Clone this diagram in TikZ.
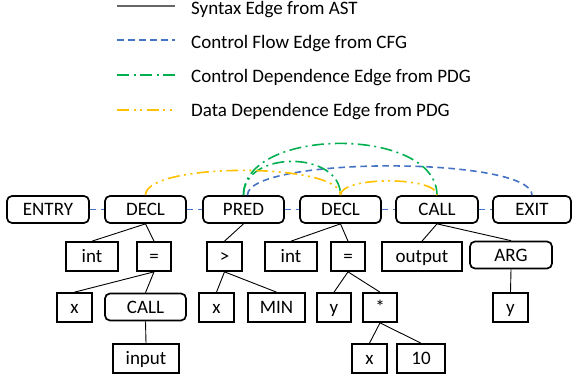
\documentclass[tikz,border=0pt]{standalone}
\usepackage{fontspec}
\setmainfont{Carlito}
\definecolor{cfgblue}{RGB}{68,114,196}
\definecolor{cdggreen}{RGB}{0,176,80}
\definecolor{ddgyellow}{RGB}{255,192,0}
\begin{document}
\begin{tikzpicture}[x=1pt,y=-1pt,
  lbl/.style={font=\fontsize{19}{22}\selectfont, inner sep=0pt},
  box/.style={draw=black, line width=1.7pt, minimum height=29pt, inner sep=0pt,
    text height=14pt, text depth=2pt, font=\fontsize{19}{22}\selectfont},
  rbox/.style={box, rounded corners=5pt, minimum height=27pt},
  ast/.style={line width=0.9pt, black},
  legsyn/.style={line width=2pt, black!60},
  cfg/.style={line width=1.6pt, cfgblue, dash pattern=on 6.5pt off 4.5pt},
  cdg/.style={line width=1.6pt, cdggreen, dash pattern=on 12pt off 4.5pt on 2pt off 4.5pt},
  ddg/.style={line width=1.6pt, ddgyellow, dash pattern=on 12pt off 4.5pt on 2pt off 4.5pt on 2pt off 4.5pt},
]
\useasboundingbox (0,0) rectangle (572,377);

% legend
\coordinate (l1a) at (117,6);   \coordinate (l1b) at (175,6);
\coordinate (l2a) at (117,40);  \coordinate (l2b) at (175,40);
\coordinate (l3a) at (117,75);  \coordinate (l3b) at (175,75);
\coordinate (l4a) at (117,110); \coordinate (l4b) at (175,110);
\draw[legsyn] (l1a) -- (l1b);
\draw[cfg, line width=2pt] (l2a) -- (l2b);
\draw[cdg, line width=2pt] (l3a) -- (l3b);
\draw[ddg, line width=2pt] (l4a) -- (l4b);
\node[lbl, anchor=base west] (t1) at (191,15) {Syntax Edge from AST};
\node[lbl, anchor=base west] (t2) at (191,48.7) {Control Flow Edge from CFG};
\node[lbl, anchor=base west] (t3) at (191,82.7) {Control Dependence Edge from PDG};
\node[lbl, anchor=base west] (t4) at (191,116.7) {Data Dependence Edge from PDG};

% main row
\node[rbox, minimum width=82pt] (entry) at (48,209.5) {ENTRY};
\node[rbox, minimum width=81pt] (decl1) at (145.5,209.5) {DECL};
\node[rbox, minimum width=81pt] (pred)  at (243.5,209.5) {PRED};
\node[rbox, minimum width=81pt] (decl2) at (340.5,209.5) {DECL};
\node[rbox, minimum width=82pt] (call)  at (437,209.5) {CALL};
\node[rbox, minimum width=78pt] (exit)  at (532,209.5) {EXIT};

% row 2
\node[box, minimum width=52pt] (int1) at (92,256.5) {int};
\node[box, minimum width=34pt] (eq1)  at (154,256.5) {=};
\node[box, minimum width=35pt] (gt)   at (224.5,256.5) {>};
\node[box, minimum width=52pt] (int2) at (291,256.5) {int};
\node[box, minimum width=34pt] (eq2)  at (348,256.5) {=};
\node[box, minimum width=80pt] (outp) at (422,256.5) {output};
\node[rbox, minimum width=82pt] (arg) at (511,255) {ARG};

% row 3
\node[box, minimum width=35pt] (x1)   at (74.5,307.5) {x};
\node[rbox, minimum width=81pt] (call2) at (145.5,307) {CALL};
\node[box, minimum width=35pt] (x2)   at (216.5,307.5) {x};
\node[box, minimum width=57pt] (min)  at (276.5,307.5) {MIN};
\node[box, minimum width=34pt] (y1)   at (334,307.5) {y};
\node[box, minimum width=34pt] (mul)  at (380,307.5) {*};
\node[box, minimum width=35pt] (y2)   at (510.5,307.5) {y};

% row 4
\node[box, minimum width=66pt] (input) at (146,358.5) {input};
\node[box, minimum width=35pt] (x3)    at (369.5,358.5) {x};
\node[box, minimum width=48pt] (ten)   at (421,358.5) {10};

% syntax edges
\draw[ast] (decl1.south) -- (int1.north);
\draw[ast] (decl1.south) -- (eq1.north);
\draw[ast] (eq1.south) -- (x1.north);
\draw[ast] (eq1.south) -- (call2.north);
\draw[ast] (call2.south) -- (input.north);
\draw[ast] (pred.south) -- (gt.north);
\draw[ast] (gt.south) -- (x2.north);
\draw[ast] (gt.south) -- (min.north);
\draw[ast] (decl2.south) -- (int2.north);
\draw[ast] (decl2.south) -- (eq2.north);
\draw[ast] (eq2.south) -- (y1.north);
\draw[ast] (eq2.south) -- (mul.north);
\draw[ast] (mul.south) -- (x3.north);
\draw[ast] (mul.south) -- (ten.north);
\draw[ast] (call.south) -- (outp.north);
\draw[ast] (call.south) -- (arg.north);
\draw[ast] (arg.south) -- (y2.north);

% control flow edges
\draw[cfg] (entry) -- (decl1);
\draw[cfg] (decl1) -- (pred);
\draw[cfg] (pred) -- (decl2);
\draw[cfg] (decl2) -- (call);
\draw[cfg] (call) -- (exit);
\draw[cfg] ([xshift=4pt]pred.north) .. controls +(0,-39) and +(0,-39) .. (exit.north);

% control dependence edges
\draw[cdg] (pred.north) .. controls +(0,-45) and +(0,-45) .. (decl2.north);
\draw[cdg] (pred.north) .. controls +(0,-69) and +(0,-69) .. (call.north);

% data dependence edges
\draw[ddg] (decl1.north) .. controls +(0,-33) and +(0,-33) .. (decl2.north);
\draw[ddg] (decl2.north) .. controls +(0,-19) and +(0,-19) .. (call.north);
\end{tikzpicture}
\end{document}
